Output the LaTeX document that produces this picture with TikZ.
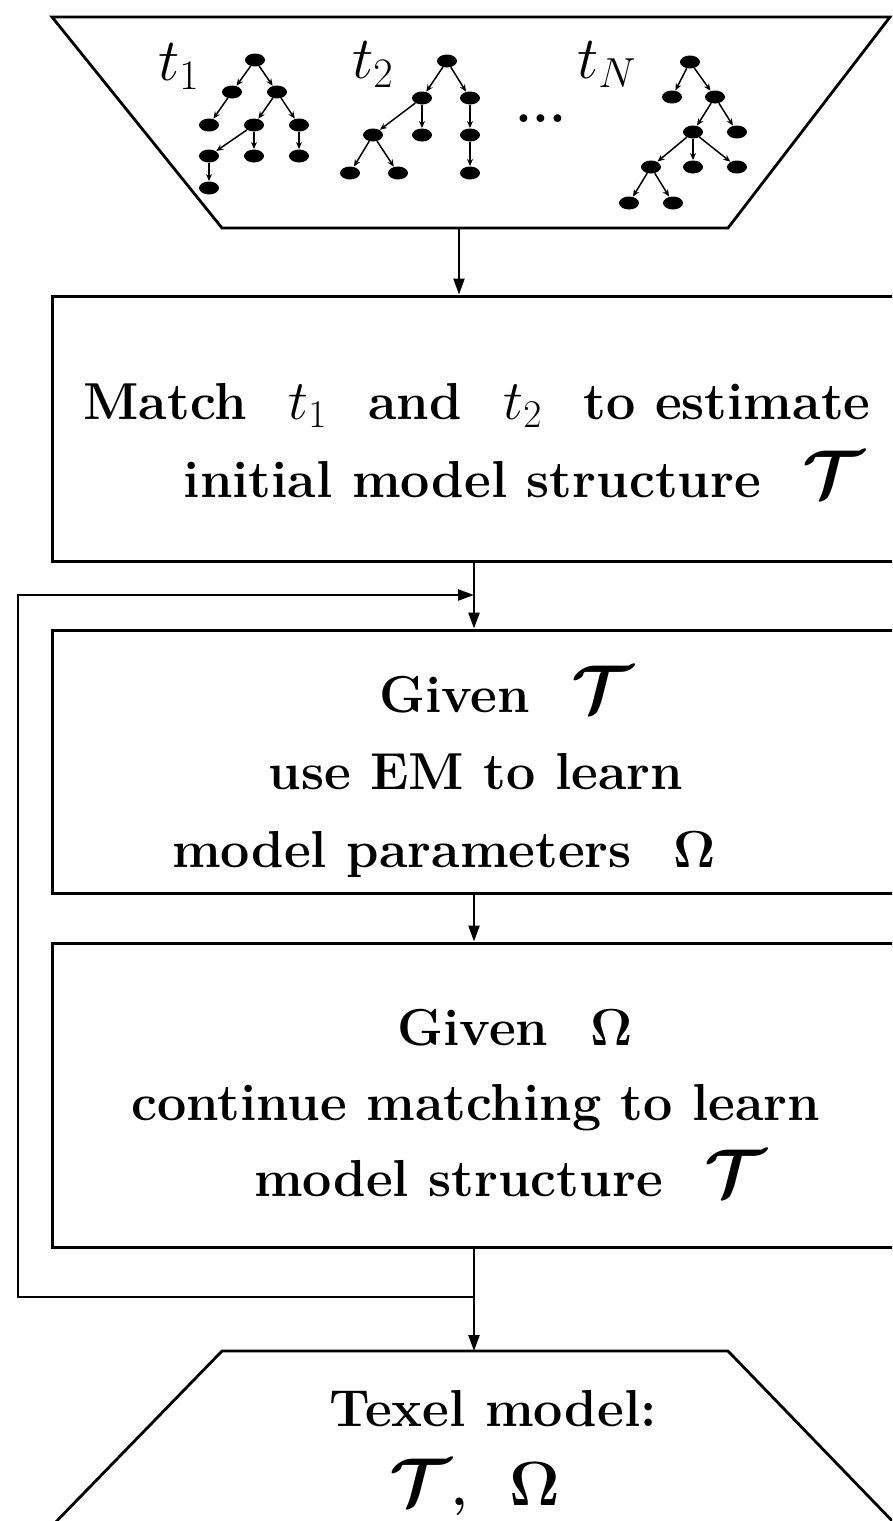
\documentclass[tikz,border=0pt]{standalone}
\usepackage{fix-cm}
\usepackage{amsmath,bm}
\usetikzlibrary{arrows.meta,shapes.geometric}

\newcommand{\calT}{\scalebox{1.3}{$\bm{\mathcal{T}}$}}
\newcommand{\bOmega}{$\bm{\Omega}$}
\newcommand{\gap}{\hspace{0.8em}}
\newcommand{\tm}[1]{\scalebox{1.08}{$#1$}}

\begin{document}
\begin{tikzpicture}[x=1pt,y=-1pt,
  txt/.style={font=\fontsize{52}{62}\selectfont\bfseries, inner sep=0, anchor=base},
  lbl/.style={font=\fontsize{60}{70}\selectfont, inner sep=0, anchor=base west},
  procbox/.style={draw, line width=3pt, minimum width=844pt, inner sep=0},
  outline/.style={line width=2.8pt, line join=miter},
  flow/.style={line width=2.4pt, -{Triangle[length=16pt,width=11pt]}},
  tnode/.style={ellipse, fill=black, minimum width=20pt, minimum height=13pt, inner sep=0},
  tedge/.style={line width=1.5pt, -{Stealth[length=7pt,width=6pt]}, shorten >=0.3pt}]

\useasboundingbox (0,0) rectangle (892,1521);
\clip (0,0) rectangle (892,1521);

% input set of trees
\draw[outline] (52,17) -- (890,17) -- (728,228) -- (222,228) -- cycle;
\coordinate (src) at (459,228);

\node[lbl] (l1) at (158,80) {$t_1$};
\node[lbl] (l2) at (352,78) {$t_2$};
\node[lbl] (lN) at (577,78) {$t_N$};
\node[font=\fontsize{54}{60}\selectfont\bfseries, inner sep=0, anchor=base] (dots) at (541,122) {...};

% tree t_1
\foreach \n/\p in {a0/{255,60},a1/{232,92},a2/{277,92},a3/{209,125},a4/{254,125},
                   a5/{299,125},a6/{209,156},a7/{254,156},a8/{299,156},a9/{209,188}}
  \node[tnode] (\n) at (\p) {};
\foreach \u/\v in {a0/a1,a0/a2,a1/a3,a2/a4,a2/a5,a4/a6,a4/a7,a5/a8,a6/a9}
  \draw[tedge] (\u) -- (\v);

% tree t_2
\foreach \n/\p in {c0/{447,61},c1/{422,98},c2/{470,98},c3/{373,135},c4/{422,135},
                   c5/{470,135},c6/{350,173},c7/{398,173},c8/{470,173}}
  \node[tnode] (\n) at (\p) {};
\foreach \u/\v in {c0/c1,c0/c2,c1/c3,c1/c4,c2/c5,c3/c6,c3/c7,c5/c8}
  \draw[tedge] (\u) -- (\v);

% tree t_N
\foreach \n/\p in {n0/{690,62},n1/{672,97},n2/{715,97},n3/{693,132},n4/{737,132},
                   n5/{651,167},n6/{693,167},n7/{737,167},n8/{629,203},n9/{673,203}}
  \node[tnode] (\n) at (\p) {};
\foreach \u/\v in {n0/n1,n0/n2,n2/n3,n2/n4,n3/n5,n3/n6,n3/n7,n5/n8,n5/n9}
  \draw[tedge] (\u) -- (\v);

% processing steps
\node[procbox, minimum height=265pt] (b1) at (474,428.5) {};
\node[procbox, minimum height=263pt] (b2) at (474,761.5) {};
\node[procbox, minimum height=304pt] (b3) at (474,1095) {};

\node[txt] (b1a) at (477,419) {Match\gap\tm{t_1}\gap and\gap\tm{t_2}\gap to estimate};
\node[txt] (b1b) at (524,497) {initial model structure\gap\calT};

\node[txt] (b2a) at (506,712) {Given\gap\calT};
\node[txt] (b2b) at (476,789) {use EM to learn};
\node[txt] (b2c) at (444,867) {model parameters\gap\bOmega};

\node[txt] (b3a) at (515,1045) {Given\gap\bOmega};
\node[txt] (b3b) at (476,1120) {continue matching to learn};
\node[txt] (b3c) at (510,1196) {model structure\gap\calT};

% output model
\draw[outline] (48,1530) -- (222,1351) -- (728,1351) -- (901,1530);
\coordinate (out) at (474,1351);
\node[txt] (o1) at (493,1426) {Texel model:};
\node[txt] (o2) at (475,1505) {\calT,\gap\scalebox{1.2}{\bOmega}};

% flow
\draw[flow] (src) -- (src |- b1.north);
\draw[flow] (b1.south) -- (b2.north);
\draw[flow] (b2.south) -- (b3.north);
\draw[flow] (b3.south) -- (out);

% feedback loop
\coordinate (split) at (474,1297);
\coordinate (join) at (474,595);
\coordinate (loopL) at (18,1297);
\coordinate (loopU) at (18,595);
\draw[flow, line join=miter] (split) -- (loopL) -- (loopU) -- (join);
\end{tikzpicture}
\end{document}
